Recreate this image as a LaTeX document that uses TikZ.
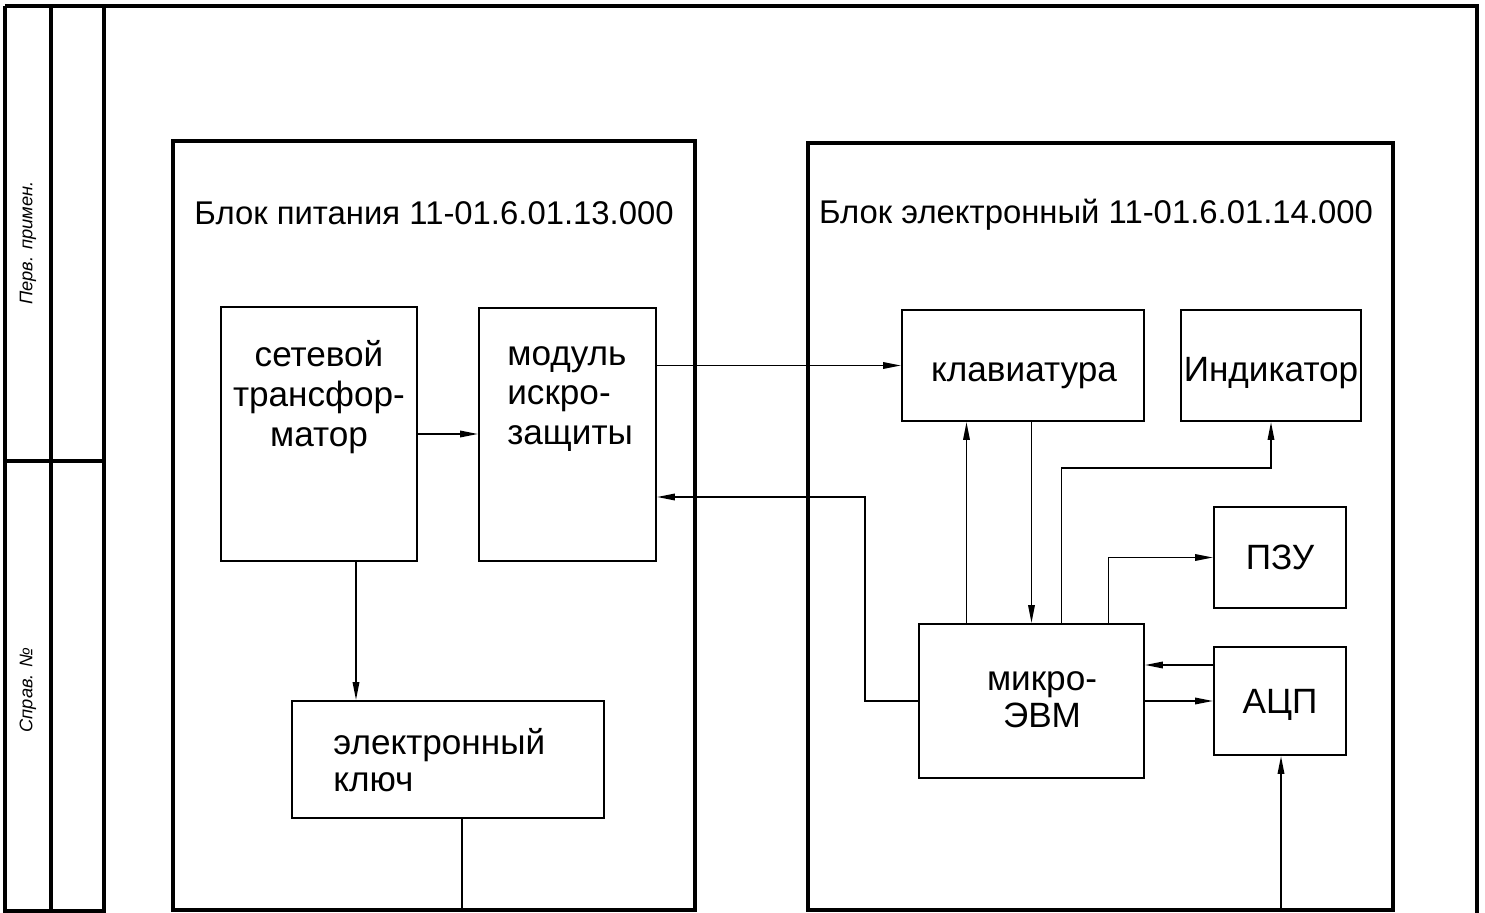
\documentclass[tikz,border=0pt]{standalone}
\usepackage{fontspec}
\setmainfont{Liberation Sans}
\usetikzlibrary{arrows.meta}

\newdimen\px
\px=0.02cm

\tikzset{
	frame/.style={line width=2.3pt},
	blk/.style={draw, line width=1.1pt, inner sep=0pt},
	txt/.style={font=\fontsize{20}{22.7}\selectfont, inner sep=0pt},
	ttl/.style={font=\fontsize{18.7}{21}\selectfont, inner sep=0pt},
	side/.style={font=\fontsize{10.4}{12}\selectfont\itshape, inner sep=0pt, rotate=90},
	arr/.style={line width=1pt, -{Triangle[length=3.6mm, width=1.3mm]}},
	wire/.style={line width=1pt}
}

\begin{document}
\begin{tikzpicture}[x=0.02cm, y=-0.02cm]
		\useasboundingbox (0, 0) rectangle (1485, 913);
		
		% frame
		\draw[frame] (5, 6) -- (1477, 6) -- (1477, 913);
		\draw[frame] (5, 6) -- (5, 911) -- (104, 911) -- (104, 6);
		\draw[frame] (51, 6) -- (51, 911);
		\draw[frame] (5, 461) -- (104, 461);
		\node[side] (perv) at (28, 243) {Перв. примен.};
		\node[side] (sprav) at (28, 690) {Справ. №};
		
		% blocks
		\draw[frame] (173, 910) -- (173, 141) -- (695, 141) -- (695, 910) -- cycle;
		\draw[frame] (808, 910) -- (808, 143) -- (1393, 143) -- (1393, 910) -- cycle;
		\node[ttl] (ttl1) at (434, 213) {Блок питания 11-01.6.01.13.000};
		\node[ttl] (ttl2) at (1096, 215) {Блок электронный 11-01.6.01.14.000};
		
		\node[blk, minimum width=196\px, minimum height=254\px] (trans) at (319, 434) {};
		\node[txt, align=center] (transtxt) at (319, 397) {сетевой\\трансфор-\\матор};
		
		\node[blk, minimum width=177\px, minimum height=253\px] (modul) at (567.5, 434.5) {};
		\node[txt, align=left, anchor=west] (modultxt) at (507, 399) {модуль\\искро-\\защиты};
		
		\node[blk, minimum width=312\px, minimum height=117\px] (key) at (448, 759.5) {};
		\node[txt, align=left, anchor=west] (keytxt) at (333, 760) {электронный\\[-1.7pt]ключ};
		
		\node[blk, minimum width=242\px, minimum height=111\px] (klav) at (1023, 365.5) {};
		\node[txt] (klavtxt) at (1024, 376) {клавиатура};
		\node[blk, minimum width=180\px, minimum height=111\px] (ind) at (1271, 365.5) {};
		\node[txt] (indtxt) at (1271, 373) {Индикатор};
		\node[blk, minimum width=132\px, minimum height=101\px] (pzu) at (1280, 557.5) {};
		\node[txt] (pzutxt) at (1280, 557.5) {ПЗУ};
		\node[blk, minimum width=132\px, minimum height=108\px] (adc) at (1280, 701) {};
		\node[txt] (adctxt) at (1280, 705) {АЦП};
		
		\node[blk, minimum width=225\px, minimum height=154\px] (evm) at (1031.5, 701) {};
		\node[txt, align=center] (evmtxt) at (1042, 700) {микро-\\[-1.7pt]ЭВМ};
		
		% connections
		\coordinate (ret) at (865, 497);
		\coordinate (keyout) at (462, 910);
		\coordinate (adcin) at (1281, 910);
		
		\draw[arr] (trans.east) -- (trans.east -| modul.west);
		\draw[arr] ([xshift=37\px]trans.south) -- ([xshift=37\px]trans.south |- key.north);
		\draw[wire] (keyout |- key.south) -- (keyout);
		\draw[arr] (modul.east |- klav.west) -- (klav.west);
		\draw[arr] (evm.west) -| (ret) -- (modul.east |- ret);
		\draw[arr] ([xshift=-65\px]evm.north) -- ([xshift=-65\px]evm.north |- klav.south);
		\draw[arr] (evm.north |- klav.south) -- (evm.north);
		\draw[arr] ([xshift=30\px]evm.north) -- ++(0, -155) -| (ind.south);
		\draw[arr] ([xshift=77\px]evm.north) |- (pzu.west);
		\draw[arr] ([yshift=36\px]adc.west) -- ([yshift=36\px]adc.west -| evm.east);
		\draw[arr] (evm.east) -- (adc.west);
		\draw[arr] (adcin) -- (adcin |- adc.south);
	\end{tikzpicture}
\end{document}
